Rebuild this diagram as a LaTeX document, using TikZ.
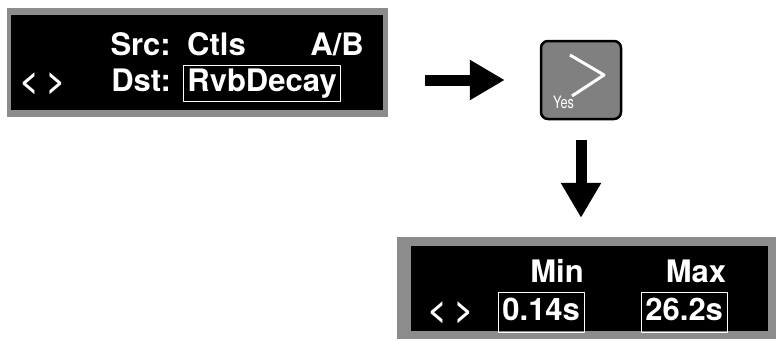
\documentclass[tikz,border=0pt]{standalone}
\usepackage{fontspec}
\setsansfont{TeX Gyre Heros}
\newfontfamily\keyfont[FakeStretch=0.75]{TeX Gyre Heros}
\usetikzlibrary{arrows.meta, positioning, calc}

\definecolor{lcdgray}{gray}{0.55}
\definecolor{keygray}{gray}{0.5}
\tikzset{
  lcdframe/.style={fill=lcdgray, inner sep=0pt},
  lcdtext/.style={text=white, font=\sffamily\bfseries\fontsize{31}{31}\selectfont, inner sep=0pt},
  lcdfield/.style={lcdtext, draw=white, line width=0.8pt, inner xsep=4pt, inner ysep=4pt,
    text height=22pt, text depth=6pt},
  blockarrow/.style={line width=11pt, -{Triangle[length=35pt,width=38pt]}},
}

\begin{document}
\begin{tikzpicture}[x=1pt, y=-1pt, line join=round]
  \useasboundingbox (0,0) rectangle (778,343);
  % first screen
  \node[lcdframe, minimum width=381pt, minimum height=109pt] (lcdA) at (197.5,62.5) {};
  \fill[black] (11,15) rectangle (383,110);
  \node[lcdtext, anchor=base east] (src) at (171,55) {Src:};
  \node[lcdtext, anchor=base west] (ctls) at (187,55) {Ctls};
  \node[lcdtext, anchor=base east] (ab) at (364,55) {A/B};
  \node[lcdtext, anchor=base west] (keysA) at (20,91) {< >};
  \node[lcdtext, anchor=base east] (dst) at (171,91) {Dst:};
  \node[lcdfield, anchor=base west] (dstval) at (183,91) {RvbDecay};
  % yes key
  \node[draw=black, line width=2.5pt, fill=keygray, rounded corners=7pt,
    minimum width=80pt, minimum height=78pt] (yes) at (581,80) {};
  \draw[white, line width=3pt] (570,55) -- (604,75) -- (572,96);
  \node[text=white, font=\keyfont\fontsize{17}{17}\selectfont, inner sep=0pt,
    anchor=base west] (yeslabel) at (553,108) {Yes};
  % second screen
  \node[lcdframe, minimum width=379pt, minimum height=102pt] (lcdB) at (586.5,288) {};
  \fill[black] (411,246) rectangle (768,331);
  \node[lcdtext, anchor=base] (minlabel) at (557,282) {Min};
  \node[lcdtext, anchor=base] (maxlabel) at (696,282) {Max};
  \node[lcdtext, anchor=base west] (keysB) at (428,320) {< >};
  \node[lcdfield, anchor=base west, inner ysep=6pt] (minval) at (498,320) {0.14s};
  \node[lcdfield, anchor=base west, inner ysep=6pt] (maxval) at (641,320) {26.2s};
  % arrows
  \draw[blockarrow, shorten <=37pt, shorten >=35pt] (lcdA.east |- yes.west) -- (yes.west);
  \draw[blockarrow, shorten <=20pt, shorten >=19pt] (yes.south) -- (yes.south |- lcdB.north);
\end{tikzpicture}
\end{document}
